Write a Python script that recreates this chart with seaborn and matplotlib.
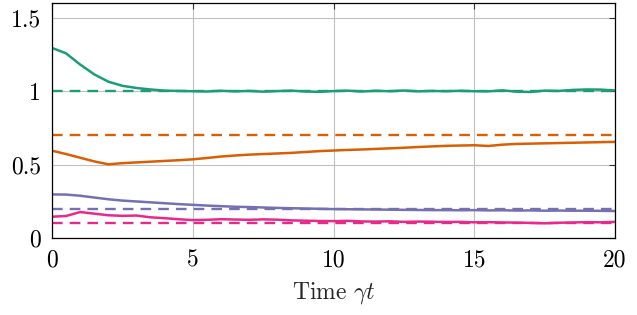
import matplotlib
matplotlib.use("Agg")
import matplotlib.pyplot as plt
import seaborn as sns

# time grid and the four simulated curves
t = [0.0, 0.5, 1.0, 1.5, 2.0, 2.5, 3.0, 3.5, 4.0, 4.5, 5.0, 5.5, 6.0, 6.5,
     7.0, 7.5, 8.0, 8.5, 9.0, 9.5, 10.0, 10.5, 11.0, 11.5, 12.0, 12.5, 13.0,
     13.5, 14.0, 14.5, 15.0, 15.5, 16.0, 16.5, 17.0, 17.5, 18.0, 18.5, 19.0,
     19.5, 20.0]

green = [1.295, 1.258, 1.182, 1.115, 1.065, 1.037, 1.022, 1.012, 1.004, 1.002,
         1.0, 0.998, 1.003, 0.999, 1.002, 0.997, 1.001, 1.004, 0.998, 0.996,
         1.001, 1.004, 0.998, 1.003, 1.0, 1.005, 0.999, 1.002, 1.0, 1.003,
         1.0, 0.999, 1.006, 0.997, 0.995, 1.004, 1.002, 1.009, 1.012, 1.011,
         1.005]

orange = [0.595, 0.572, 0.547, 0.522, 0.502, 0.51, 0.515, 0.52, 0.525, 0.53,
          0.536, 0.545, 0.555, 0.562, 0.568, 0.572, 0.576, 0.58, 0.586, 0.592,
          0.596, 0.6, 0.603, 0.607, 0.611, 0.615, 0.62, 0.624, 0.628, 0.63,
          0.632, 0.627, 0.636, 0.641, 0.643, 0.645, 0.647, 0.649, 0.651, 0.653,
          0.655]

purple = [0.297, 0.296, 0.288, 0.276, 0.264, 0.255, 0.249, 0.243, 0.237, 0.231,
          0.226, 0.221, 0.217, 0.213, 0.211, 0.208, 0.205, 0.203, 0.201, 0.199,
          0.197, 0.196, 0.195, 0.194, 0.193, 0.192, 0.191, 0.19, 0.19, 0.189,
          0.19, 0.188, 0.189, 0.187, 0.188, 0.186, 0.187, 0.186, 0.186, 0.185,
          0.184]

pink = [0.145, 0.15, 0.177, 0.166, 0.155, 0.151, 0.153, 0.141, 0.135, 0.128,
        0.122, 0.124, 0.128, 0.126, 0.124, 0.127, 0.125, 0.12, 0.118, 0.116,
        0.115, 0.117, 0.113, 0.112, 0.114, 0.11, 0.112, 0.111, 0.109, 0.11,
        0.107, 0.108, 0.106, 0.105, 0.103, 0.1, 0.104, 0.106, 0.108, 0.107,
        0.11]

# stationary values (dashed)
steady = [1.0, 0.7, 0.2, 0.1]
colors = ["#1b9e77", "#d95f02", "#7570b3", "#e7298a"]

xticks = [0, 5, 10, 15, 20]
yticks = [0, 0.5, 1, 1.5]
ytick_labels = ["0", "0.5", "1", "1.5"]

sns.set_style("white")
plt.rcParams["font.family"] = ["cmr10", "DejaVu Serif"]
plt.rcParams["mathtext.fontset"] = "cm"
plt.rcParams["axes.formatter.use_mathtext"] = True

fig = plt.figure(figsize=(6.37, 3.15), dpi=100)
ax = fig.add_axes([0.0816, 0.2444, 0.884, 0.7456])

for vals, c in zip([green, orange, purple, pink], colors):
    sns.lineplot(x=t, y=vals, color=c, lw=1.8, ax=ax)

for v, c in zip(steady, colors):
    sns.lineplot(x=[0, 20], y=[v, v], color=c, lw=1.7, ax=ax,
                 linestyle=(0, (4.5, 3)))

ax.set_xlim(0, 20)
ax.set_ylim(0, 1.6)
ax.set_xticks(xticks)
ax.set_xticklabels([str(x) for x in xticks])
ax.set_yticks(yticks)
ax.set_yticklabels(ytick_labels)
ax.grid(True, color="#c0c0c0", lw=0.8)
ax.set_axisbelow(True)
ax.tick_params(direction="in", length=4, width=0.8, colors="#333333",
               labelcolor="black", labelsize=17, top=True, right=True, pad=8)
for s in ax.spines.values():
    s.set_color("black")
    s.set_linewidth(0.9)
ax.set_xlabel(r"Time $\gamma t$", fontsize=17, labelpad=6)

fig.savefig("out.png", dpi=100)
